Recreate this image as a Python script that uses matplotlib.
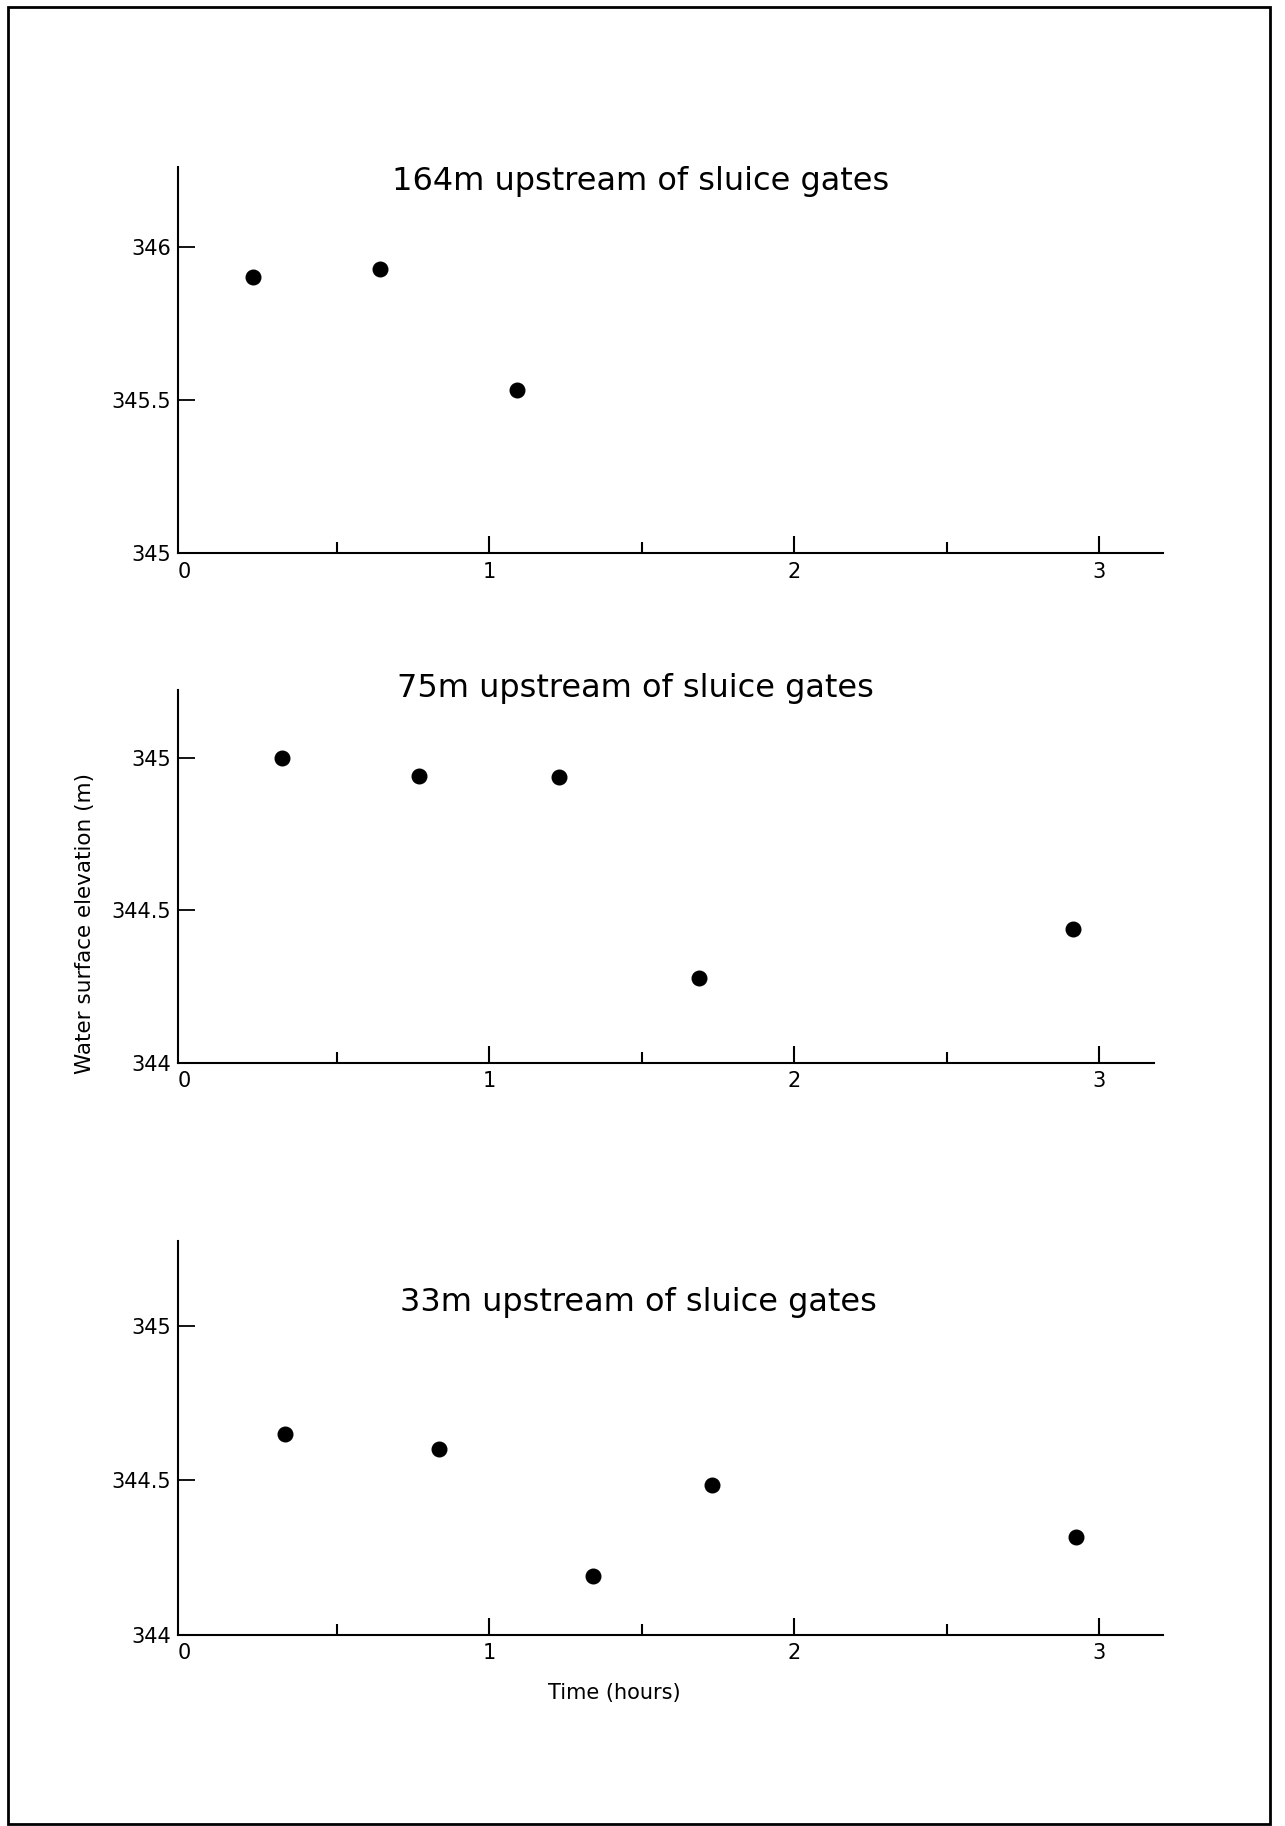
import matplotlib
matplotlib.use('agg')
import matplotlib.pyplot as plt
from matplotlib.patches import Rectangle

# data
titles = ['164m upstream of sluice gates',
          '75m upstream of sluice gates',
          '33m upstream of sluice gates']
times = [
    [0.226, 0.643, 1.091],
    [0.32, 0.77, 1.23, 1.69, 2.915],
    [0.33, 0.835, 1.34, 1.73, 2.925],
]
levels = [
    [345.904, 345.929, 345.535],
    [345.00, 344.943, 344.938, 344.279, 344.438],
    [344.651, 344.601, 344.19, 344.483, 344.316],
]
yticks = [
    [345, 345.5, 346],
    [344, 344.5, 345],
    [344, 344.5, 345],
]
ytick_labels = [
    ['345', '345.5', '346'],
    ['344', '344.5', '345'],
    ['344', '344.5', '345'],
]
ylims = [(345, 346.263), (344, 345.226), (344, 345.276)]
xmaxs = [3.21, 3.18, 3.21]
xticks = [0, 1, 2, 3]
xminor = [0.5, 1.5, 2.5]

W, H = 1285, 1826
PX_PER_HOUR = 305
X0 = 184
# (top, bottom) of each panel in pixels
panel_rows = [(166.6, 553.4), (689.7, 1062.5), (1240.7, 1634.5)]
title_pos = [(641, 181), (635, 689), (638, 1302)]

fig = plt.figure(figsize=(W / 100, H / 100), dpi=100)

for i in range(3):
    top, bottom = panel_rows[i]
    xmin = -0.02
    left = X0 + xmin * PX_PER_HOUR
    right = X0 + xmaxs[i] * PX_PER_HOUR
    ax = fig.add_axes([left / W, 1 - bottom / H, (right - left) / W, (bottom - top) / H])
    ax.plot(times[i], levels[i], 'o', color='black', markersize=10.5, clip_on=False)
    ax.set_xlim(xmin, xmaxs[i])
    ax.set_ylim(*ylims[i])
    ax.spines['top'].set_visible(False)
    ax.spines['right'].set_visible(False)
    ax.spines['left'].set_linewidth(1.5)
    ax.spines['bottom'].set_linewidth(1.5)
    ax.set_xticks(xticks)
    ax.set_xticklabels([str(t) for t in xticks])
    ax.set_xticks(xminor, minor=True)
    ax.set_yticks(yticks[i])
    ax.set_yticklabels(ytick_labels[i])
    ax.tick_params(axis='x', which='major', direction='in', length=12.5, width=1.5,
                   labelsize=15, pad=6)
    ax.tick_params(axis='x', which='minor', direction='in', length=8, width=1.5)
    ax.tick_params(axis='y', which='major', direction='in', length=12, width=1.3,
                   labelsize=15, pad=5)
    # no separate tick mark at t=0, it sits on the y axis
    ax.xaxis.get_major_ticks()[0].tick1line.set_visible(False)
    tx, ty = title_pos[i]
    fig.text(tx / W, 1 - ty / H, titles[i], fontsize=23, ha='center', va='center')

fig.text(85 / W, 1 - 923 / H, 'Water surface elevation (m)', fontsize=15.5,
         rotation=90, ha='center', va='center')
fig.text(614 / W, 1 - 1693 / H, 'Time (hours)', fontsize=15, ha='center', va='center')

# page frame
fig.add_artist(Rectangle((8 / W, 2 / H), (1270 - 8) / W, (1819 - 2) / H,
                         transform=fig.transFigure, fill=False, lw=2, color='black'))

fig.savefig('out.png', dpi=100)
